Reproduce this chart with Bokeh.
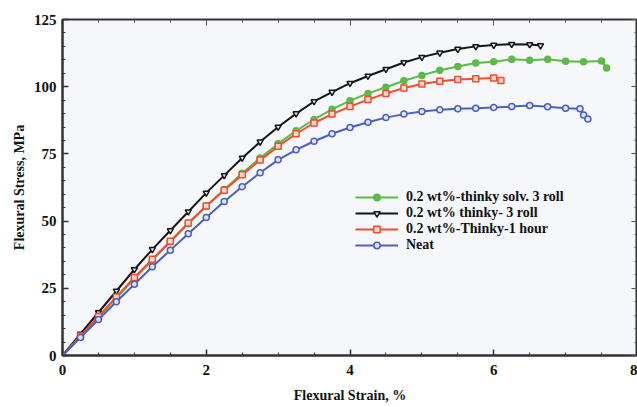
from bokeh.plotting import figure
from bokeh.models import Range1d, SingleIntervalTicker, LinearAxis, Legend, LegendItem
from bokeh.embed import file_html
from bokeh.resources import INLINE

# ---- data ----
green_label = "0.2 wt%-thinky solv. 3 roll"
green_x = [0, 0.25, 0.5, 0.75, 1, 1.25, 1.5, 1.75, 2, 2.25, 2.5, 2.75, 3, 3.25, 3.5, 3.75,
           4, 4.25, 4.5, 4.75, 5, 5.25, 5.5, 5.75, 6, 6.25, 6.5, 6.75, 7, 7.25, 7.5, 7.57]
green_y = [0, 7, 14.3, 21.5, 28.5, 35.5, 42.3, 49, 55.5, 61.8, 67.8, 73.5, 78.8, 83.6, 87.8, 91.6,
           94.8, 97.5, 99.8, 102.2, 104.2, 106.1, 107.5, 108.8, 109.3, 110.2, 109.8, 110.2, 109.5, 109.3, 109.6, 107]

black_label = "0.2 wt% thinky- 3 roll"
black_x = [0, 0.25, 0.5, 0.75, 1, 1.25, 1.5, 1.75, 2, 2.25, 2.5, 2.75, 3, 3.25, 3.5, 3.75,
           4, 4.25, 4.5, 4.75, 5, 5.25, 5.5, 5.75, 6, 6.25, 6.5, 6.65]
black_y = [0, 8, 16, 24, 32, 39.5, 46.5, 53.5, 60.5, 67, 73.5, 79.5, 85, 90, 94.5, 98,
           101.3, 104, 106.5, 109, 111, 112.6, 114, 115, 115.5, 115.8, 115.7, 115.3]

red_label = "0.2 wt%-Thinky-1 hour"
red_x = [0, 0.25, 0.5, 0.75, 1, 1.25, 1.5, 1.75, 2, 2.25, 2.5, 2.75, 3, 3.25, 3.5, 3.75,
         4, 4.25, 4.5, 4.75, 5, 5.25, 5.5, 5.75, 6, 6.1]
red_y = [0, 7.3, 14.5, 21.8, 29, 35.8, 42.5, 49.3, 55.6, 61.5, 67.2, 72.7, 77.8, 82.5, 86.5, 89.8,
         92.6, 95.2, 97.5, 99.5, 101, 102, 102.7, 103, 103.2, 102.3]

blue_label = "Neat"
blue_x = [0, 0.25, 0.5, 0.75, 1, 1.25, 1.5, 1.75, 2, 2.25, 2.5, 2.75, 3, 3.25, 3.5, 3.75,
          4, 4.25, 4.5, 4.75, 5, 5.25, 5.5, 5.75, 6, 6.25, 6.5, 6.75, 7, 7.2, 7.25, 7.31]
blue_y = [0, 6.7, 13.4, 20, 26.5, 33, 39.2, 45.3, 51.3, 57.3, 62.8, 68, 72.8, 76.5, 79.7, 82.5,
          84.8, 86.8, 88.5, 89.8, 90.8, 91.4, 91.8, 92, 92.3, 92.6, 93, 92.5, 92, 91.8, 89.5, 88]

x_label = "Flexural Strain, %"
y_label = "Flexural Stress, MPa"

FONT = "Liberation Serif"

p = figure(width=637, height=407, output_backend="svg", toolbar_location=None,
           x_range=Range1d(0, 8), y_range=Range1d(0, 125),
           min_border_left=62, min_border_right=0, min_border_top=19, min_border_bottom=52)

p.background_fill_color = "#f5f7fb"
p.border_fill_color = "white"
p.outline_line_color = "#333333"
p.outline_line_width = 2
p.grid.visible = False

p.xaxis.ticker = SingleIntervalTicker(interval=2, num_minor_ticks=4)
p.yaxis.ticker = SingleIntervalTicker(interval=25, num_minor_ticks=5)

for ax in (p.xaxis[0], p.yaxis[0]):
    ax.axis_line_width = 2
    ax.axis_line_color = "#333333"
    ax.major_tick_in = 6
    ax.major_tick_out = 0
    ax.minor_tick_in = 3
    ax.minor_tick_out = 0
    ax.major_tick_line_color = "#333333"
    ax.minor_tick_line_color = "#333333"
    ax.major_tick_line_width = 1.5
    ax.major_label_text_font = FONT
    ax.major_label_text_font_style = "bold"
    ax.major_label_text_font_size = "15px"
    ax.major_label_text_color = "#111111"
    ax.axis_label_text_font = FONT
    ax.axis_label_text_font_style = "bold"
    ax.axis_label_text_font_size = "14px"
    ax.axis_label_text_color = "#111111"

p.xaxis.axis_label = x_label
p.yaxis.axis_label = y_label
p.xaxis.major_label_standoff = 9
p.xaxis.axis_label_standoff = 10
p.yaxis.major_label_standoff = 6
p.yaxis.axis_label_standoff = 4

for loc, interval, nminor in (("above", 2, 4), ("right", 25, 5)):
    ax = LinearAxis(ticker=SingleIntervalTicker(interval=interval, num_minor_ticks=nminor))
    ax.axis_line_color = None
    ax.major_tick_in = 6
    ax.major_tick_out = 0
    ax.minor_tick_in = 3
    ax.minor_tick_out = 0
    ax.major_tick_line_color = "#555555"
    ax.minor_tick_line_color = "#555555"
    ax.major_label_text_font_size = "1px"
    ax.major_label_text_color = None
    ax.major_label_standoff = 0
    p.add_layout(ax, loc)

series = [
    (green_label, green_x, green_y, "#5cba47", "circle", "#5cba47"),
    (black_label, black_x, black_y, "#151515", "inverted_triangle", "#e8e8e8"),
    (red_label, red_x, red_y, "#f04e2c", "square", "#fbd8cf"),
    (blue_label, blue_x, blue_y, "#4a5ec4", "circle", "#e0e5f7"),
]

items = []
for label, xs, ys, color, marker, fill in series:
    r1 = p.line(xs, ys, line_color=color, line_width=2)
    r2 = p.scatter(xs, ys, marker=marker, size=6, line_color=color, fill_color=fill, line_width=1.5)
    items.append(LegendItem(label=label, renderers=[r1, r2]))

legend = Legend(items=items, location=(293, 102), orientation="vertical",
                glyph_width=43, glyph_height=16, label_height=16, label_standoff=8,
                spacing=0, padding=0, margin=0,
                border_line_color=None, background_fill_alpha=0,
                label_text_font=FONT, label_text_font_style="bold",
                label_text_font_size="14px", label_text_color="#111111")
p.add_layout(legend, "center")

open("out.html", "w").write(file_html(p, INLINE))
